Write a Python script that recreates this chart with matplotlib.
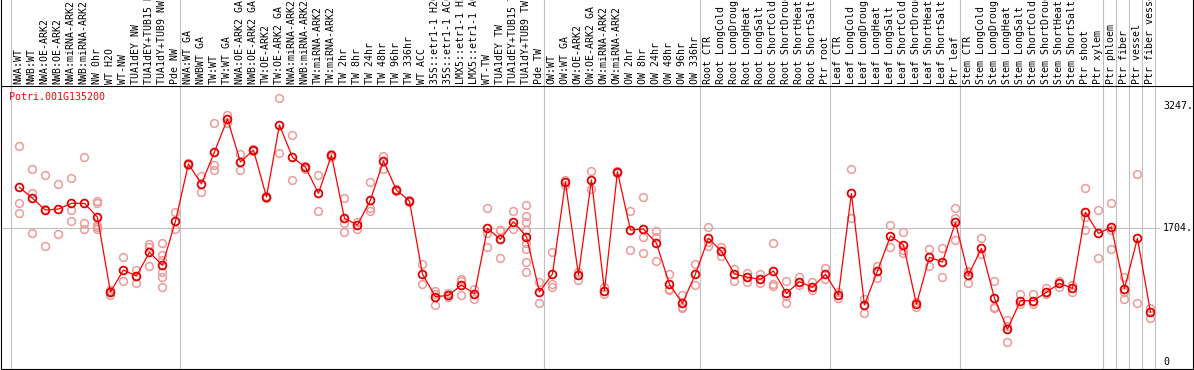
import numpy as np
import matplotlib
matplotlib.use('Agg')
import matplotlib.pyplot as plt

# Sample labels, in plot order
labels = [
    'NWA:WT', 'NWB:WT', 'NWA:OE-ARK2', 'NWB:OE-ARK2', 'NWA:miRNA-ARK2',
    'NWB:miRNA-ARK2', 'NW 0hr', 'WT H2O', 'WT-NW', 'TUA1dEY NW',
    'TUA1dEY+TUB15 NW', 'TUA1dY+TUB9 NW', 'Pde NW',
    'NWA:WT GA', 'NWBWT GA', 'TW:WT', 'TW:WT GA', 'NWA:OE-ARK2 GA',
    'NWB:OE-ARK2 GA', 'TW:OE-ARK2', 'TW:OE-ARK2 GA', 'NWA:miRNA-ARK2 GA',
    'NWB:miRNA-ARK2 GA', 'TW:miRNA-ARK2', 'TW:miRNA-ARK2', 'TW 2hr', 'TW 8hr',
    'TW 24hr', 'TW 48hr', 'TW 96hr', 'TW 336hr', 'WT ACC', '35S::etr1-1 H2O',
    '35S::etr1-1 ACC', 'LMX5::etr1-1 H2O', 'LMX5::etr1-1 ACC', 'WT-TW',
    'TUA1dEY TW', 'TUA1dEY+TUB15 TW', 'TUA1dY+TUB9 TW', 'Pde TW',
    'OW:WT', 'OW:WT GA', 'OW:OE-ARK2', 'OW:OE-ARK2 GA', 'OW:miRNA-ARK2',
    'OW:miRNA-ARK2', 'OW 2hr', 'OW 8hr', 'OW 24hr', 'OW 48hr', 'OW 96hr',
    'OW 336hr',
    'Root CTR', 'Root LongCold', 'Root LongDrought', 'Root LongHeat',
    'Root LongSalt', 'Root ShortCold', 'Root ShortDrought', 'Root ShortHeat',
    'Root ShortSalt', 'Ptr root',
    'Leaf CTR', 'Leaf LongCold', 'Leaf LongDrought', 'Leaf LongHeat',
    'Leaf LongSalt', 'Leaf ShortCold', 'Leaf ShortDrought', 'Leaf ShortHeat',
    'Leaf ShortSalt', 'Ptr leaf',
    'Stem CTR', 'Stem LongCold', 'Stem LongDrought', 'Stem LongHeat',
    'Stem LongSalt', 'Stem ShortCold', 'Stem ShortDrought', 'Stem ShortHeat',
    'Stem ShortSalt', 'Ptr shoot', 'Ptr xylem',
    'Ptr phloem', 'Ptr fiber', 'Ptr vessel', 'Ptr fiber vessel',
]

# index of the first sample in each group
group_starts = [0, 13, 41, 53, 63, 73, 84, 85, 86, 87, 88]

# mean expression per sample
means = [
    2219, 2079, 1930, 1943, 2015, 2015, 1838, 889, 1168, 1092, 1393, 1228, 1787,
    2515, 2261, 2667, 3086, 2540, 2692, 2096, 3010, 2600, 2473, 2142, 2625,
    1825, 1740, 2057, 2553, 2184, 2045, 1118, 829, 847, 978, 864, 1698, 1558,
    1782, 1591, 889,
    1118, 2282, 1105, 2311, 906, 2417, 1676, 1689, 1507, 987, 745, 1118,
    1571, 1406, 1118, 1076, 1050, 1156, 872, 1020, 949, 1114,
    851, 2142, 724, 1156, 1600, 1486, 733, 1330, 1270, 1774,
    1105, 1444, 809, 415, 779, 779, 885, 999, 936, 1901, 1634,
    1711, 931, 1571, 635,
]

# individual replicates per sample
reps = [
    [2743, 2015, 1888], [2447, 2150, 1634], [2371, 1473, 1946], [2257, 1626],
    [2333, 1930, 1791], [2600, 1761, 1685], [2045, 2015, 1740, 1718, 1685],
    [847, 914, 906], [1330, 1025], [1168, 1007], [1499, 1464, 1219],
    [1511, 1363, 1295, 1147, 1083, 949], [1905, 1685],
    [2530, 2500], [2362, 2155], [3031, 2502, 2438], [3133, 3031], [2638, 2438],
    [2705, 2680], [2110, 2082], [3349, 2650], [2879, 2311], [2455, 2490],
    [2371, 1914], [2642, 2608], [2079, 1761, 1647], [1782, 1685],
    [2286, 1952, 1922], [2616, 2455], [2200, 2168], [2060, 2030], [1245, 991],
    [902, 724, 860], [872, 822], [1054, 847, 1033], [923, 796],
    [1952, 1464, 1642], [1676, 1317, 1681], [1918, 1685],
    [1990, 1854, 1778, 1676, 1507, 1431, 1274, 1147], [1016, 745],
    [1393, 987, 956], [2311, 2248], [1147, 1041], [2426, 2201], [864, 948],
    [2430, 2404], [1914, 1419], [2096, 1584, 1380], [1664, 1591, 1279],
    [1118, 914, 929], [855, 682, 698], [1245, 982],
    [1711, 1477, 1525], [1457, 1346], [1181, 1033], [1134, 1016], [1121, 1007],
    [1507, 987, 965], [1029, 745, 842], [1083, 978], [1012, 914], [1198, 1050],
    [893, 809], [2447, 1825], [796, 618], [1219, 1063], [1740, 1457],
    [1655, 1380, 1423], [702, 764], [1431, 1223], [1448, 1076],
    [1952, 1833, 1549],
    [1147, 1007, 1160], [1571, 1368], [1029, 702, 682], [533, 258, 455],
    [864, 733], [864, 733], [944, 860], [1033, 956], [893, 979],
    [2206, 1838, 1676], [1930, 1317],
    [2015, 1676, 1435], [1083, 893, 796], [2384, 745], [682, 555],
]

gene = 'Potri.001G135200'
y_max = 3247
y_mid = 1704

mono = 'DejaVu Sans Mono'
W, H = 1194, 370
fig = plt.figure(figsize=(W / 100, H / 100), dpi=100)

# pixel geometry of the original: column k centred at 17.5 + 13 k
x_lo = (1 - 17.5) / 13
x_hi = (1193 - 17.5) / 13
head_px = 86

ax = fig.add_axes([1 / W, 1 / H, 1192 / W, (369 - head_px) / H])
axh = fig.add_axes([1 / W, 1 - head_px / H, 1192 / W, head_px / H])

x = np.arange(len(means))
sep_color = '#c0c0c0'

for a in (ax, axh):
    a.set_xlim(x_lo, x_hi)
    a.set_xticks([])
    a.set_yticks([])
    for s in a.spines.values():
        s.set_linewidth(0.8)
        s.set_color('black')
    for g in group_starts:
        a.axvline(g - 0.5, color=sep_color, lw=0.8, zorder=0)

axh.spines['top'].set_visible(False)
axh.spines['bottom'].set_visible(False)
axh.set_ylim(head_px, 0)
for i, lab in enumerate(labels):
    axh.text(i + 0.08, head_px - 2, lab, rotation=90, ha='center', va='bottom',
             fontsize=7.1, family=mono, color='black')

ax.set_ylim((362 - 369) * 12.7, (362 - head_px) * 12.7)

ax.hlines(y_mid, x_lo, (1160 - 17.5) / 13, color=sep_color, lw=0.8, zorder=0)

# replicates
xs = np.concatenate([[i] * len(r) for i, r in enumerate(reps)])
ys = np.concatenate(reps)
ax.plot(xs + 0.15, ys, 'o', ms=5.6, mfc='none', mec='#ef9a9a', mew=1.1,
        zorder=2)

# means
ax.plot(x + 0.15, means, '-', color='#ff0000', lw=0.9, zorder=3)
ax.plot(x + 0.15, means, 'o', ms=5.6, mfc='none', mec='#e00000', mew=1.3,
        zorder=4)

ax.text(8 / 1192, 1 - 11 / 283, gene, transform=ax.transAxes, color='#ff0000',
        fontsize=7.2, family=mono, ha='left', va='center')

tr = ax.get_yaxis_transform()
for v, t in [(y_max, '3247.'), (y_mid, '1704.'), (0, '0')]:
    ax.text((1163 - 1) / 1192, v, t, transform=tr, fontsize=7.2, family=mono,
            ha='left', va='center', color='black')

plt.savefig('out.png', dpi=100)
